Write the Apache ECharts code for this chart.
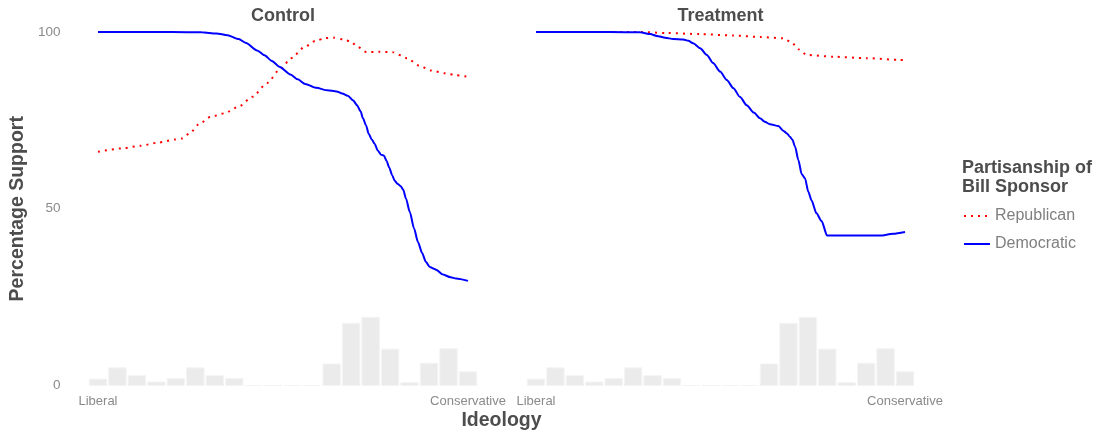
<!DOCTYPE html>
<html>
<head>
<meta charset="utf-8">
<script src="https://cdn.jsdelivr.net/npm/echarts@6/dist/echarts.min.js"></script>
<style>
  html, body { margin: 0; padding: 0; background: #ffffff; }
  #chart { width: 1102px; height: 436px; }
</style>
</head>
<body>
<div id="chart"></div>
<script>
// Ideology runs from 0 (most liberal) to 1 (most conservative).
const panels = ['Control', 'Treatment'];
const parties = ['Republican', 'Democratic'];
const ideologyTickValues = [0, 1];
const ideologyTickLabels = ['Liberal', 'Conservative'];
const supportTicks = [0, 50, 100];

// Share of respondents (%) in each of 20 ideology bins, bin centres spread evenly over 0..1
const histShare = [1.8, 5.0, 2.8, 1.0, 2.0, 5.0, 2.8, 2.0, 0, 0, 0, 0, 6.1, 17.6, 19.3, 10.3, 0.8, 6.3, 10.4, 3.9];

// Percentage support by ideology: [ideology, support]
const controlRepublican = [
  [0, 66.1], [0.067, 67.1], [0.114, 67.8], [0.162, 68.7], [0.209, 69.6], [0.228, 69.9],
  [0.247, 71.3], [0.276, 74.2], [0.304, 76.0], [0.342, 77.0], [0.38, 78.9], [0.418, 81.7],
  [0.456, 85.5], [0.494, 89.7], [0.522, 92.6], [0.559, 95.8], [0.588, 97.5], [0.615, 98.3],
  [0.636, 98.4], [0.664, 97.9], [0.683, 97.3], [0.702, 95.8], [0.726, 94.3], [0.759, 94.4],
  [0.797, 94.3], [0.835, 92.6], [0.868, 90.5], [0.901, 89.1], [0.939, 88.3], [0.968, 87.8],
  [1, 87.3]
];
const controlDemocratic = [
  [0, 100], [0.1, 100], [0.2, 100], [0.28, 99.9], [0.32, 99.6], [0.35, 99.1], [0.38, 98.0],
  [0.4, 96.9], [0.43, 94.8], [0.45, 93.4], [0.47, 91.8], [0.49, 90.2], [0.52, 88.0],
  [0.54, 86.6], [0.56, 85.3], [0.59, 84.2], [0.62, 83.5], [0.645, 83.2], [0.66, 82.6],
  [0.675, 82.0], [0.69, 80.6], [0.7, 79.3], [0.71, 77.5], [0.716, 75.6], [0.725, 73.5],
  [0.731, 71.3], [0.74, 69.6], [0.748, 68.3], [0.756, 66.5], [0.765, 65.3], [0.773, 65.0],
  [0.78, 63.5], [0.787, 61.7], [0.795, 59.5], [0.802, 57.9], [0.81, 57.0], [0.818, 56.4],
  [0.825, 55.4], [0.832, 53.0], [0.843, 49.0], [0.854, 44.5], [0.865, 40.5], [0.876, 37.5],
  [0.886, 35.0], [0.897, 33.5], [0.908, 33.0], [0.915, 32.7], [0.93, 31.5], [0.953, 30.6],
  [0.968, 30.3], [1, 29.6]
];
const treatmentRepublican = [
  [0, 100], [0.282, 100], [0.354, 99.7], [0.444, 99.4], [0.535, 99.0], [0.607, 98.6],
  [0.67, 98.2], [0.693, 97.1], [0.711, 95.1], [0.734, 93.5], [0.806, 93.0], [0.896, 92.6],
  [0.986, 92.1], [1, 92.0]
];
const treatmentDemocratic = [
  [0, 100], [0.1, 100], [0.2, 100], [0.282, 99.9], [0.31, 99.4], [0.327, 98.9], [0.35, 98.4],
  [0.372, 98.0], [0.399, 97.9], [0.413, 97.5], [0.426, 96.8], [0.445, 95.4], [0.463, 93.5],
  [0.48, 91.2], [0.499, 88.8], [0.517, 86.4], [0.535, 84.1], [0.553, 81.6], [0.571, 79.3],
  [0.59, 77.2], [0.607, 75.6], [0.62, 74.6], [0.634, 73.9], [0.657, 73.4], [0.67, 72.1],
  [0.68, 71.3], [0.688, 70.4], [0.695, 69.5], [0.702, 67.6], [0.711, 63.8], [0.72, 59.8],
  [0.729, 58.6], [0.738, 54.8], [0.747, 52.3], [0.76, 48.7], [0.774, 46.5], [0.789, 42.4],
  [0.85, 42.4], [0.932, 42.4], [0.968, 42.9], [1, 43.4]
];

const lineData = [
  [controlRepublican, controlDemocratic],
  [treatmentRepublican, treatmentDemocratic]
];

const FONT = '"Liberation Sans", Arial, Helvetica, sans-serif';
const TITLE_COLOR = '#4d4d4d';
const TICK_COLOR = '#8a8a8a';
const partyStyle = {
  Republican: { color: '#ff0000', type: [2, 5], width: 2 },
  Democratic: { color: '#0000ff', type: 'solid', width: 2 }
};

const binCount = histShare.length;
const binWidth = 1 / (binCount - 1);
const histData = histShare.map((v, i) => [i * binWidth, v]);

const chart = echarts.init(document.getElementById('chart'), null, { renderer: 'canvas' });

// Panel geometry: ideology 0 sits at the left end, 1 at the right end of the curves
const xMin = -0.08, xMax = 1.08;
const panelGeom = [
  { x0: 98, x1: 468 },
  { x0: 536, x1: 905 }
];
const grids = panelGeom.map(g => {
  const scale = g.x1 - g.x0;
  return {
    left: g.x0 + xMin * scale,
    width: (xMax - xMin) * scale,
    top: 32,
    bottom: 50.5,
    containLabel: false,
    outerBoundsMode: 'none'
  };
});

const xAxes = panels.map((p, i) => ({
  type: 'value',
  gridIndex: i,
  min: xMin,
  max: xMax,
  axisLine: { show: false },
  axisTick: { show: false },
  splitLine: { show: false },
  axisLabel: {
    customValues: ideologyTickValues,
    formatter: v => ideologyTickLabels[ideologyTickValues.indexOf(v)],
    color: TICK_COLOR,
    fontFamily: FONT,
    fontSize: 13,
    margin: 9
  }
}));

const yAxes = panels.map((p, i) => ({
  type: 'value',
  gridIndex: i,
  min: 0,
  max: 100,
  axisLine: { show: false },
  axisTick: { show: false },
  splitLine: { show: false },
  axisLabel: {
    show: i === 0,
    customValues: supportTicks,
    color: TICK_COLOR,
    fontFamily: FONT,
    fontSize: 13.5,
    margin: 8
  }
}));

const series = [];
panels.forEach((p, i) => {
  series.push({
    type: 'custom',
    name: p + ' distribution',
    xAxisIndex: i,
    yAxisIndex: i,
    silent: true,
    data: histData,
    renderItem(params, api) {
      const c = api.value(0);
      const v = api.value(1);
      const topLeft = api.coord([c - binWidth / 2, v]);
      const bottomRight = api.coord([c + binWidth / 2, 0]);
      return {
        type: 'rect',
        shape: {
          x: topLeft[0] + 1,
          y: topLeft[1],
          width: bottomRight[0] - topLeft[0] - 2,
          height: bottomRight[1] - topLeft[1]
        },
        style: { fill: '#ebebeb', stroke: '#f4f4f4', lineWidth: 1 }
      };
    }
  });
  parties.forEach((party, k) => {
    const st = partyStyle[party];
    series.push({
      type: 'line',
      name: party,
      xAxisIndex: i,
      yAxisIndex: i,
      data: lineData[i][k],
      showSymbol: false,
      symbol: 'none',
      clip: false,
      smooth: 0.25,
      smoothMonotone: 'x',
      color: st.color,
      lineStyle: { color: st.color, type: st.type, width: st.width, cap: 'butt' },
      emphasis: { disabled: true }
    });
  });
});

const option = {
  animation: false,
  backgroundColor: '#ffffff',
  grid: grids,
  xAxis: xAxes,
  yAxis: yAxes,
  series: series,
  legend: {
    data: parties,
    orient: 'vertical',
    left: 963,
    top: 208,
    padding: 0,
    itemWidth: 26,
    itemHeight: 14,
    itemGap: 12,
    selectedMode: false,
    // line-only key: hide the marker that line series add to their legend icon
    itemStyle: { color: 'rgba(0,0,0,0)', borderWidth: 0, opacity: 0 },
    textStyle: { color: '#7f7f7f', fontFamily: FONT, fontSize: 16 }
  },
  graphic: [
    ...panels.map((p, i) => ({
      type: 'text',
      x: (panelGeom[i].x0 + panelGeom[i].x1) / 2,
      y: 16,
      style: {
        text: p, align: 'center', verticalAlign: 'middle',
        fill: TITLE_COLOR, font: 'bold 18px ' + FONT
      }
    })),
    {
      type: 'text',
      x: (panelGeom[0].x0 + panelGeom[1].x1) / 2,
      y: 421,
      style: {
        text: 'Ideology', align: 'center', verticalAlign: 'middle',
        fill: TITLE_COLOR, font: 'bold 19.5px ' + FONT
      }
    },
    {
      type: 'text',
      x: 17.5,
      y: 208.75,
      rotation: Math.PI / 2,
      style: {
        text: 'Percentage Support', align: 'center', verticalAlign: 'middle',
        fill: TITLE_COLOR, font: 'bold 19.5px ' + FONT
      }
    },
    {
      type: 'text',
      x: 962,
      y: 159,
      style: {
        text: 'Partisanship of\nBill Sponsor', align: 'left', verticalAlign: 'top',
        fill: TITLE_COLOR, font: 'bold 18px ' + FONT, lineHeight: 19
      }
    }
  ]
};

chart.setOption(option);
</script>
</body>
</html>
